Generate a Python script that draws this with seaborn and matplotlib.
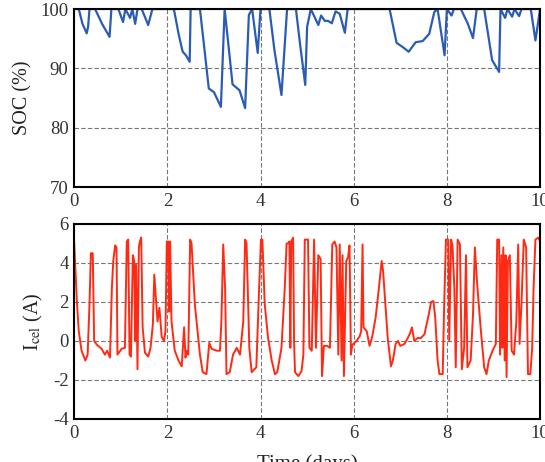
import matplotlib
matplotlib.use("Agg")
import matplotlib.pyplot as plt
import seaborn as sns
import pandas as pd

# SOC (%) vs time (days)
soc_t = [0.0, 0.1, 0.18, 0.27, 0.3, 0.33, 0.45, 0.6, 0.76, 0.8, 0.95, 1.05, 1.1, 1.2, 1.25, 1.31, 1.36, 1.45,
         1.59, 1.68, 1.75, 2.14, 2.25, 2.33, 2.4, 2.48, 2.5, 2.7, 2.8, 2.89, 3.0, 3.15, 3.23, 3.3, 3.4, 3.55,
         3.67, 3.75, 3.82, 3.94, 4.0, 4.19, 4.3, 4.45, 4.57, 4.76, 4.85, 4.96, 5.0, 5.08, 5.24, 5.3, 5.38,
         5.45, 5.53, 5.61, 5.7, 5.81, 5.87, 6.77, 6.92, 7.05, 7.18, 7.33, 7.48, 7.62, 7.73, 7.8, 7.95, 8.0,
         8.1, 8.15, 8.3, 8.45, 8.56, 8.64, 8.8, 8.97, 9.12, 9.15, 9.25, 9.3, 9.4, 9.45, 9.55, 9.6, 9.8,
         9.9, 10.0]
soc_v = [100, 100, 97.5, 95.9, 97, 100, 100, 97.5, 95.3, 100, 100, 97.8, 100, 98.5, 100, 97.5, 100, 100,
         97.3, 100, 100, 100, 95.5, 92.8, 92.2, 91.1, 100, 100, 93, 86.6, 86.0, 83.5, 100, 94.8, 87.3, 86.3,
         83.3, 99, 100, 92.6, 100, 100, 93, 85.5, 100, 100, 94, 87.2, 97, 100, 97.3, 98.9, 98, 98, 97.6,
         99.6, 99.2, 96, 100, 100, 94.3, 93.6, 92.8, 94.4, 94.6, 95.8, 99.5, 100, 92.2, 100, 98.9, 100,
         100, 97.5, 95.1, 100, 100, 91.4, 89.4, 100, 98.5, 100, 98.7, 100, 98.8, 100, 100, 94.7, 100]

# Cell current I_cel (A) vs time (days)
cur_t = [0.0, 0.06, 0.1, 0.16, 0.24, 0.29, 0.33, 0.36, 0.4, 0.43, 0.49, 0.59, 0.66, 0.71, 0.77, 0.81, 0.84,
         0.88, 0.91, 0.93, 1.02, 1.09, 1.13, 1.16, 1.19, 1.22, 1.26, 1.29, 1.31, 1.33, 1.36, 1.39, 1.41,
         1.44, 1.47, 1.52, 1.59, 1.64, 1.69, 1.72, 1.76, 1.79, 1.83, 1.88, 1.93, 1.96, 1.99, 2.02, 2.04,
         2.06, 2.09, 2.16, 2.24, 2.31, 2.36, 2.39, 2.42, 2.45, 2.49, 2.52, 2.59, 2.7, 2.76, 2.84, 2.9,
         2.95, 3.06, 3.13, 3.16, 3.2, 3.24, 3.27, 3.34, 3.41, 3.49, 3.56, 3.63, 3.67, 3.7, 3.76, 3.81,
         3.91, 3.97, 4.01, 4.04, 4.09, 4.16, 4.24, 4.31, 4.36, 4.45, 4.52, 4.56, 4.59, 4.62, 4.64, 4.66,
         4.7, 4.72, 4.74, 4.81, 4.88, 4.92, 4.95, 5.02, 5.05, 5.1, 5.15, 5.19, 5.24, 5.29, 5.32, 5.36,
         5.43, 5.49, 5.54, 5.59, 5.63, 5.67, 5.7, 5.74, 5.76, 5.79, 5.84, 5.88, 5.91, 5.94, 5.97, 6.06,
         6.13, 6.16, 6.19, 6.21, 6.28, 6.34, 6.4, 6.47, 6.54, 6.6, 6.63, 6.68, 6.73, 6.8, 6.84, 6.9,
         6.95, 7.0, 7.09, 7.16, 7.21, 7.25, 7.3, 7.37, 7.44, 7.52, 7.55, 7.61, 7.66, 7.71, 7.75, 7.8,
         7.84, 7.91, 7.94, 7.98, 8.03, 8.05, 8.09, 8.12, 8.16, 8.19, 8.23, 8.28, 8.32, 8.37, 8.41, 8.44,
         8.51, 8.56, 8.6, 8.65, 8.73, 8.8, 8.85, 8.9, 8.98, 9.05, 9.08, 9.12, 9.14, 9.17, 9.19, 9.21,
         9.24, 9.26, 9.28, 9.31, 9.35, 9.39, 9.44, 9.49, 9.53, 9.56, 9.6, 9.65, 9.7, 9.74, 9.79, 9.83,
         9.86, 9.9, 9.96, 10.0]
cur_v = [5.1, 2.0, 0.5, -0.5, -1.0, -0.7, 1.9, 4.5, 4.5, 0.0, -0.2, -0.4, -0.7, -0.5, -0.85, 2.7, 4.1,
         4.9, 4.8, -0.7, -0.4, -0.35, 5.1, 5.2, -0.7, -0.8, 4.4, 4.1, 0.0, 3.9, -1.45, 4.8, 5.1,
         5.3, 0.7, -0.6, -0.8, -0.35, 0.85, 3.4, 2.0, 1.0, 1.7, 0.2, 0.0, 0.5, 5.1, 5.1, 1.5,
         5.1, 1.0, -0.5, -1.0, -1.3, 0.7, -0.85, -0.5, -0.7, 5.2, 5.0, 1.9, -0.7, -1.6, -1.7, -0.1,
         -0.4, -0.5, -0.5, 1.0, 4.95, 2.7, -1.7, -1.6, -0.7, -0.35, -0.7, 1.0, 5.2, 5.0, -0.35, -1.6,
         -1.35, 2.7, 5.2, 5.2, 1.9, 0.2, -1.0, -1.7, -1.6, -0.35, 2.7, 5.0, 5.0, 5.1, -0.35, 5.1,
         5.3, 0.0, -1.6, -1.8, -1.55, -0.7, 5.2, 5.2, -0.35, -0.5, 5.2, -0.35, 4.4, 4.2, -1.8, -0.25,
         -0.25, -0.35, 4.95, 5.1, 4.8, -0.7, 4.95, -1.0, 4.4, -1.8, 4.1, 4.3, 4.9, -0.7, -0.2, 0.0,
         0.25, 0.5, 4.95, 0.7, 0.5, -0.25, 0.25, 1.2, 2.7, 4.1, 3.6, 1.9, 0.15, -1.3, -1.0, -0.15,
         0.0, -0.25, -0.15, 0.15, 0.4, 0.7, 0.0, 0.15, 0.15, 0.35, 0.7, 1.35, 2.0, 2.05, 1.2, -1.0,
         -1.7, -1.7, 1.7, 5.2, 5.2, 0.0, 5.2, 4.9, 2.7, -1.35, 5.2, 4.95, -1.45, -0.35, 4.4, -1.35,
         -1.0, 1.35, 4.8, 2.9, 0.5, -1.35, -1.7, -1.0, -0.5, -0.15, 5.2, 5.2, -0.7, 4.4, -0.35, 4.8,
         -1.0, 4.4, -1.85, 4.1, 4.4, -0.5, -0.7, 1.0, 4.95, -0.15, 1.9, 5.2, 4.8, -1.7, -1.7, -0.35,
         2.7, 5.2, 5.3, 5.1]

soc_df = pd.DataFrame({"t": soc_t, "v": soc_v})
cur_df = pd.DataFrame({"t": cur_t, "v": cur_v})

sns.set_style("white")
plt.rcParams["font.family"] = ["Liberation Serif", "DejaVu Serif"]
plt.rcParams["mathtext.fontset"] = "stix"
plt.rcParams["axes.unicode_minus"] = False

fig = plt.figure(figsize=(5.45, 4.62), dpi=100)
ax1 = fig.add_axes([0.136, 0.5952, 0.855, 0.3853])
ax2 = fig.add_axes([0.136, 0.0931, 0.855, 0.4221])

sns.lineplot(data=soc_df, x="t", y="v", ax=ax1, color="#2b5cb5", linewidth=1.6, estimator=None, sort=False)
sns.lineplot(data=cur_df, x="t", y="v", ax=ax2, color="#ff2a14", linewidth=1.4, estimator=None, sort=False)

ax1.set_xlim(0, 10)
ax1.set_ylim(70, 100)
ax1.set_yticks([70, 80, 90, 100])
ax2.set_xlim(0, 10)
ax2.set_ylim(-4, 6)
ax2.set_yticks([-4, -2, 0, 2, 4, 6])

for ax in (ax1, ax2):
    ax.set_xticks([0, 2, 4, 6, 8, 10])
    ax.grid(True, color="#555555", linestyle=(0, (4, 2)), linewidth=0.8, alpha=0.8)
    ax.set_axisbelow(True)
    for s in ax.spines.values():
        s.set_color("black")
        s.set_linewidth(1.5)
    ax.tick_params(axis="both", labelsize=13.5, length=0, colors="#333333")
    ax.tick_params(axis="x", pad=4)
    ax.tick_params(axis="y", pad=4)

ax1.set_xlabel("")
ax1.set_ylabel("SOC (%)", fontsize=14.5, labelpad=6, color="#222222")
ax2.set_ylabel(r"I$_{\rm cel}$ (A)", fontsize=14.5, labelpad=6, color="#222222")
ax2.set_xlabel("Time (days)", fontsize=15, labelpad=9, color="#222222")

fig.savefig("out.png", dpi=100)
